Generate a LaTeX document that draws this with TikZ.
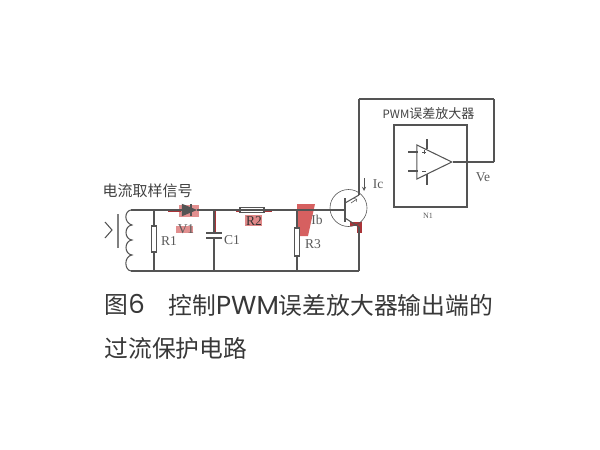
\documentclass[tikz,border=0pt]{standalone}
\usepackage{fontspec}
\usepackage{tikz}
\usetikzlibrary{shapes,arrows}
\setmainfont{Liberation Serif}
\newfontfamily\cjk{Noto Sans CJK SC}
\newfontfamily\wide{Poppins}
\definecolor{wire}{gray}{0.33}
\definecolor{smear}{RGB}{214,96,96}
\definecolor{deepred}{RGB}{170,52,56}

\begin{document}
\begin{tikzpicture}[x=1pt,y=-1pt,line width=1.05pt,draw=wire]
\tikzstyle{res} = [rectangle, draw, fill=white, inner sep=0pt]
\tikzstyle{lab} = [inner sep=0pt, text=black!65, font=\fontsize{13.5}{13.5}\selectfont]
\tikzstyle{zh} = [inner sep=0pt, text=black!75, font=\cjk\fontsize{15}{15}\selectfont]
\tikzstyle{caption} = [inner sep=0pt, anchor=west, text=black!78, font=\cjk\fontsize{23.8}{24}\selectfont]
\useasboundingbox (0,0) rectangle (600,450);
% red marks
\fill[smear] (297,204) -- (315,204) -- (308,236) -- (297,236) -- cycle;
\fill[smear!70] (179,205) rectangle (199,217);
\fill[smear!70] (176,226) rectangle (193,233);
\fill[smear!75] (245,215) rectangle (262,226);
\fill[deepred] (168,208.5) rectangle (181,211.5);
\fill[deepred] (213,211) rectangle (216,232);
\fill[deepred] (207,232) rectangle (221,234);
\fill[deepred] (236,208.5) rectangle (272,211.5);
\fill[deepred] (350,222) rectangle (362,226);
\fill[deepred] (357,226) rectangle (362,233);
% left part
\coordinate (T1) at (131,210);
\coordinate (T2) at (131,271);
\coordinate (N1) at (154,210);
\coordinate (N2) at (154,271);
\coordinate (N3) at (214,210);
\coordinate (N4) at (214,271);
\coordinate (N5) at (297,210);
\coordinate (N6) at (297,271);
\coordinate (B) at (345,210);
\coordinate (CB) at (345,203);
\coordinate (EB) at (345,218);
\coordinate (CC) at (359,195);
\coordinate (EE) at (359,227);
\coordinate (G) at (359,271);
\coordinate (TL) at (359,99);
\coordinate (TR) at (494,99);
\coordinate (OUTR) at (494,162);
\node[res,minimum width=5pt,minimum height=26pt] (R1) at (154,239) {};
\node[res,minimum width=24pt,minimum height=5pt] (R2) at (252,210) {};
\node[res,minimum width=5pt,minimum height=28pt] (R3) at (297,242) {};
\node[rectangle,draw,minimum width=73pt,minimum height=82pt,inner sep=0pt] (PWM) at (430.5,166) {};
\node[draw,isosceles triangle,isosceles triangle apex angle=52,minimum height=35pt,inner sep=0pt,anchor=apex] (OP) at (453,162) {};
\node[circle,draw,line width=0.6pt,minimum size=37pt,inner sep=0pt] (Q) at (348.5,208) {};
\node[draw,isosceles triangle,fill=wire,minimum height=9pt,minimum width=11pt,inner sep=0pt] (D) at (186,210) {};
\path (T1) edge (D)
      (D) edge (B)
      (T2) edge (G)
      (N1) edge (R1)
      (R1) edge (N2)
      (N5) edge (R3)
      (R3) edge (N6)
      (G) edge (EE)
      (EE) edge (EB)
      (CB) edge (CC)
      (CC) edge (TL)
      (TL) edge (TR)
      (TR) edge (OUTR)
      (OUTR) edge (OP.apex);
\draw[line width=1.4pt] (191,204) -- (191,216);
\draw[line width=1.4pt] (345,198) -- (345,222);
\draw[line width=2.2pt,black!50] (118,214) -- (118,248);
\draw (105,222) -- (112,230) -- (105,238);
% coil
\draw (T1) .. controls (124,211) and (124,223) .. (132,225)
           .. controls (124,226) and (124,239) .. (132,240)
           .. controls (124,241) and (124,254) .. (132,255)
           .. controls (124,256) and (124,270) .. (T2);
% capacitor
\draw (N3) -- (214,233) (206,233) -- (222,233) (206,238) -- (222,238) (214,238) -- (N4);
% opamp pins
\draw (408,152) -- (418,152) (408,171) -- (418,171)
      (427,139) -- (427,149) (427,174) -- (427,185);
\draw[line width=0.7pt] (422,152) -- (426,152) (424,150) -- (424,154) (422,171) -- (426,171);
\draw[-stealth,line width=0.9pt] (364,178) -- (364,191);
\draw[->,line width=0.6pt] (351,203) -- (357,199);
% labels
\node[zh] (L1) at (147.5,191) {电流取样信号};
\node[zh,font=\cjk\fontsize{13}{13}\selectfont] (L2) at (428.5,114) {{\fontsize{11.5}{12}\selectfont PWM}误差放大器};
\node[lab] (LR1) at (169,241) {R1};
\node[lab] (LV1) at (186,229) {V1};
\node[lab] (LC1) at (232,240) {C1};
\node[lab,text=black!80] (LR2) at (254,221) {R2};
\node[lab] (LR3) at (313,244) {R3};
\node[lab] (LIb) at (317,220) {Ib};
\node[lab] (LIc) at (378,184) {Ic};
\node[lab] (LVe) at (483,177) {Ve};
\node[lab,font=\fontsize{8}{8}\selectfont] (LN1) at (428,216) {N1};
% caption
\node[caption] (C1) at (104,305) {图{\wide\fontsize{26}{24}\selectfont 6}};
\node[caption] (C2) at (168,305) {控制{\wide\fontsize{26}{24}\selectfont PWM}误差放大器输出端的};
\node[caption] (C3) at (104,348) {过流保护电路};
\end{tikzpicture}
\end{document}
